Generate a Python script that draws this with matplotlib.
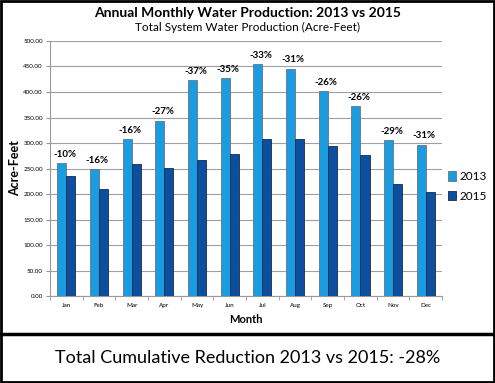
import matplotlib.pyplot as plt
import numpy as np
from matplotlib.patches import Rectangle
from matplotlib.lines import Line2D

months = ["Jan", "Feb", "Mar", "Apr", "May", "Jun", "Jul", "Aug", "Sep", "Oct", "Nov", "Dec"]
prod_2013 = [260, 249, 308, 344, 423, 427, 455, 446, 401, 373, 306, 297]
prod_2015 = [235, 210, 259, 251, 267, 279, 307, 308, 295, 276, 219, 203]
reductions = ["-10%", "-16%", "-16%", "-27%", "-37%", "-35%", "-33%", "-31%", "-26%", "-26%", "-29%", "-31%"]

plt.rcParams['font.family'] = ['Lato', 'DejaVu Sans']

fig = plt.figure(figsize=(4.95, 3.83), dpi=100)
ax = fig.add_axes([0.101, 0.227, 0.792, 0.666])

x = np.arange(len(months))
w = 0.28
ax.bar(x - w / 2, prod_2013, w, color="#1b9be0", edgecolor="#6a7480", linewidth=0.6, label="2013", zorder=3)
ax.bar(x + w / 2, prod_2015, w, color="#0b4f9e", edgecolor="#1a2a50", linewidth=0.6, label="2015", zorder=3)

for i, r in enumerate(reductions):
    ax.text(x[i] - 0.05, prod_2013[i] + 8, r, ha="center", va="bottom", fontsize=7, fontweight="bold")

ax.set_xlim(-0.5, len(months) - 0.5)
ax.set_ylim(0, 500)
ax.set_yticks(np.arange(0, 501, 50))
ax.set_yticklabels([f"{v:.2f}" for v in np.arange(0, 501, 50)], fontsize=4.5)
ax.set_xticks(x)
ax.set_xticklabels(months, fontsize=4.5)
ax.set_xticks(np.arange(-0.5, len(months), 1), minor=True)
ax.tick_params(axis="x", which="major", length=0, pad=5)
ax.tick_params(axis="x", which="minor", length=3, color="#999999")
ax.tick_params(axis="y", length=3, color="#999999", pad=2)
ax.grid(axis="y", color="#a0a0a0", linewidth=0.8, zorder=0)
for s in ["top", "right"]:
    ax.spines[s].set_visible(False)
ax.spines["left"].set_color("#999999")
ax.spines["bottom"].set_color("#999999")

ax.set_ylabel("Acre-Feet", fontsize=9, fontweight="bold")
ax.yaxis.set_label_coords(-0.075, 0.5)
ax.set_xlabel("Month", fontsize=8, fontweight="bold", labelpad=4)

ax.legend(loc="center left", bbox_to_anchor=(1.0, 0.43), frameon=False, fontsize=8.5,
          borderaxespad=0.3, borderpad=0.2, handlelength=0.7, handleheight=0.9,
          handletextpad=0.25, labelspacing=0.7)

fig.text(0.5, 0.965, "Annual Monthly Water Production: 2013 vs 2015", ha="center", va="center",
         fontsize=10, fontweight="bold")
fig.text(0.5, 0.928, "Total System Water Production (Acre-Feet)", ha="center", va="center", fontsize=8.5)

fig.text(0.5, 0.065, "Total Cumulative Reduction 2013 vs 2015: -28%", ha="center", va="center",
         fontsize=13)

fig.add_artist(Rectangle((0.002, 0.003), 0.996, 0.994, transform=fig.transFigure, fill=False,
                         edgecolor="black", linewidth=2))
fig.add_artist(Line2D([0, 1], [1 - 334 / 383, 1 - 334 / 383], transform=fig.transFigure,
                      color="black", linewidth=2.5))

fig.savefig("out.png", dpi=100)
